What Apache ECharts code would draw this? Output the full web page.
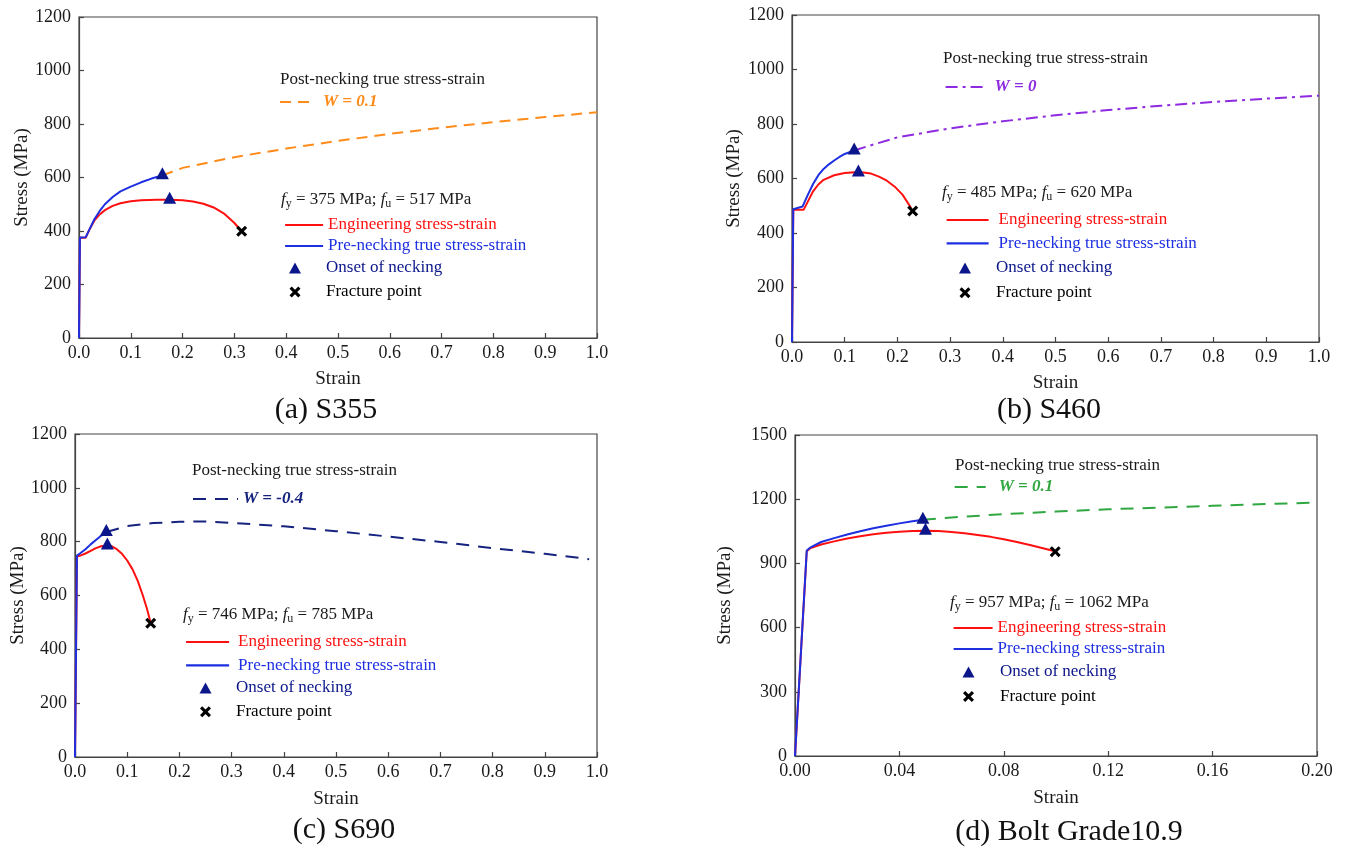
<!DOCTYPE html>
<html>
<head>
<meta charset="utf-8">
<script src="https://cdn.jsdelivr.net/npm/echarts@6/dist/echarts.min.js"></script>
<style>html,body{margin:0;padding:0;background:#fff}#c{width:1347px;height:849px}</style>
</head>
<body>
<div id="c"></div>
<script>
// ---------------- DATA (strain, stress MPa) ----------------
// (a) S355
const engA = [[0,0],[0.0018,375],[0.013,375],[0.02,405],[0.03,440],[0.04,462],[0.05,478],[0.065,494],[0.08,504],[0.1,511],[0.12,515],[0.15,517],[0.175,517],[0.2,515],[0.22,510],[0.24,502],[0.26,488],[0.28,465],[0.3,430],[0.314,399]];
const trueA = [[0,0],[0.0018,376],[0.013,377],[0.02,405],[0.03,445],[0.04,475],[0.05,500],[0.065,527],[0.08,548],[0.1,566],[0.12,582],[0.14,596],[0.161,608]];
const postA = [[0.161,608],[0.2,636],[0.3,676],[0.4,708],[0.5,737],[0.6,763],[0.7,786],[0.8,807],[0.9,826],[1.0,844]];
const neckA = [[0.161,608],[0.175,517]];
const fracA = [[0.314,399]];
// (b) S460
const engB = [[0,0],[0.0024,485],[0.022,485],[0.03,515],[0.04,553],[0.05,578],[0.06,595],[0.08,612],[0.1,620],[0.12,623],[0.135,622],[0.15,618],[0.165,607],[0.18,592],[0.195,570],[0.21,540],[0.226,492]];
const trueB = [[0,0],[0.0024,487],[0.02,497],[0.03,540],[0.04,580],[0.05,612],[0.06,635],[0.07,652],[0.08,666],[0.09,679],[0.1,690],[0.118,703]];
const postB = [[0.118,703],[0.15,722],[0.2,751],[0.3,784],[0.4,810],[0.5,832],[0.6,851],[0.7,867],[0.8,881],[0.9,893],[1.0,904]];
const neckB = [[0.118,703],[0.126,622]];
const fracB = [[0.229,481]];
// (c) S690
const engC = [[0,0],[0.0037,746],[0.01,748],[0.02,756],[0.03,766],[0.04,776],[0.05,783],[0.062,786],[0.07,783],[0.08,772],[0.09,755],[0.1,730],[0.11,698],[0.12,655],[0.13,600],[0.138,550],[0.144,505]];
const trueC = [[0,0],[0.0037,748],[0.01,757],[0.02,772],[0.03,790],[0.04,806],[0.05,822],[0.06,836]];
const postC = [[0.06,836],[0.1,858],[0.15,869],[0.2,874],[0.25,875],[0.3,870],[0.4,857],[0.5,839],[0.6,819],[0.7,799],[0.8,776],[0.9,755],[0.985,735]];
const neckC = [[0.06,836],[0.062,786]];
const fracC = [[0.145,497]];
// (d) Bolt Grade 10.9
const engD = [[0,0],[0.0045,957],[0.006,972],[0.01,988],[0.015,1003],[0.02,1016],[0.025,1027],[0.03,1036],[0.035,1043],[0.04,1048],[0.045,1051],[0.05,1052],[0.055,1051],[0.06,1047],[0.065,1041],[0.07,1033],[0.075,1024],[0.08,1013],[0.085,1000],[0.09,986],[0.095,971],[0.1,956]];
const trueD = [[0,0],[0.0045,960],[0.006,975],[0.01,1000],[0.015,1018],[0.02,1035],[0.025,1050],[0.03,1064],[0.035,1076],[0.04,1087],[0.045,1097],[0.049,1104]];
const postD = [[0.049,1104],[0.06,1115],[0.08,1130],[0.1,1142],[0.12,1153],[0.14,1161],[0.16,1169],[0.18,1177],[0.2,1184]];
const neckD = [[0.049,1104],[0.05,1052]];
const fracD = [[0.0997,955]];

const panelKeys = ['a','b','c','d'];
const captions = ['(a) S355','(b) S460','(c) S690','(d) Bolt Grade10.9'];
const wLabels = ['W = 0.1','W = 0','W = -0.4','W = 0.1'];
const fyText = ['375','485','746','957'];
const fuText = ['517','620','785','1062'];
const preLabels = ['Pre-necking true stress-strain','Pre-necking true stress-strain','Pre-necking true stress-strain','Pre-necking stress-strain'];
const xMax = [1.0,1.0,1.0,0.2];
const xInterval = [0.1,0.1,0.1,0.04];
const xDecimals = [1,1,1,2];
const yMax = [1200,1200,1200,1500];
const yInterval = [200,200,200,300];

const engData = [engA,engB,engC,engD];
const trueData = [trueA,trueB,trueC,trueD];
const postData = [postA,postB,postC,postD];
const neckData = [neckA,neckB,neckC,neckD];
const fracData = [fracA,fracB,fracC,fracD];

// ---------------- STYLE / LAYOUT ----------------
const FONT = 'Liberation Serif';
const RED = '#ff1010', BLUE = '#1d2fe0', NAVY = '#0a168a', BLACK = '#000000';
const postColors = ['#ff8c1a','#8e2be0','#15237f','#31a742'];
const postDash = [[11,7],[12,5,3,5],[13,9],[13,9]];
const AX = '#444';

const grids = [
  {left:79, top:17, width:518, height:321},
  {left:792, top:15, width:527, height:327},
  {left:75, top:434, width:522, height:323},
  {left:795, top:435, width:522, height:321}
];
const yNameGap = [47,48,47,60];
const xNameGap = [32,32,33,33];
const captionPos = [[326,393],[1049,393],[344,813],[1069,815]];
const headerPos = [[280,70],[943,49],[192,461],[955,456]];
const fyPos = [[281,190],[942,183],[183,605],[950,593]];
// W legend: left, top, itemWidth, text pad
const wLeg = [[279,92,32,6],[944.6,77,39,5],[192,489,45,0],[953.7,477,31,8]];
// line legend: left, top, itemWidth, gap, pad
const lineLeg = [[284,215,38,1,0],[945.5,210,42,3.3,5],[185,632,43,3.3,4],[952.5,618,39,1,0]];
// marker legend: left, top, gap, pad
const mkLeg = [[289,258,4,20],[959,258,4.8,20],[199.5,678,3.7,19.5],[962.5,662,4.5,20.5]];

const CROSS = 'path://M0,2L2,0L5,3L8,0L10,2L7,5L10,8L8,10L5,7L2,10L0,8L3,5Z';

const xAxes = [], yAxes = [], series = [], legends = [], titles = [];
const fmt = n => n.split('|')[1];

panelKeys.forEach((k,i) => {
  xAxes.push({
    type:'value', gridIndex:i, min:0, max:xMax[i], interval:xInterval[i],
    name:'Strain', nameLocation:'middle', nameGap:xNameGap[i],
    nameTextStyle:{fontFamily:FONT, fontSize:19, color:'#1a1a1a'},
    axisLine:{show:true, onZero:false, lineStyle:{color:AX, width:1.2}},
    axisTick:{show:true, inside:true, length:5, lineStyle:{color:AX, width:1.2}},
    axisLabel:{fontFamily:FONT, fontSize:18, color:'#1a1a1a', margin:6,
      formatter: v => v.toFixed(xDecimals[i])},
    splitLine:{show:false}
  });
  yAxes.push({
    type:'value', gridIndex:i, min:0, max:yMax[i], interval:yInterval[i],
    name:'Stress (MPa)', nameLocation:'middle', nameGap:yNameGap[i],
    nameTextStyle:{fontFamily:FONT, fontSize:19, color:'#1a1a1a'},
    axisLine:{show:true, onZero:false, lineStyle:{color:AX, width:1.2}},
    axisTick:{show:true, inside:true, length:5, lineStyle:{color:AX, width:1.2}},
    axisLabel:{fontFamily:FONT, fontSize:18, color:'#1a1a1a', margin:8,
      formatter: v => String(Math.round(v))},
    splitLine:{show:false}
  });

  const engName = k+'|Engineering stress-strain';
  const preName = k+'|'+preLabels[i];
  const wName = k+'|'+wLabels[i];
  const neckName = k+'|Onset of necking';
  const fracName = k+'|Fracture point';

  series.push({type:'line', name:wName, xAxisIndex:i, yAxisIndex:i, data:postData[i],
    symbol:'none', z:3, lineStyle:{color:postColors[i], width:2, type:postDash[i]}, itemStyle:{color:postColors[i]}});
  series.push({type:'line', name:engName, xAxisIndex:i, yAxisIndex:i, data:engData[i],
    symbol:'none', z:4, lineStyle:{color:RED, width:2}, itemStyle:{color:RED}});
  series.push({type:'line', name:preName, xAxisIndex:i, yAxisIndex:i, data:trueData[i],
    symbol:'none', z:5, lineStyle:{color:BLUE, width:2}, itemStyle:{color:BLUE}});
  series.push({type:'scatter', name:neckName, xAxisIndex:i, yAxisIndex:i, data:neckData[i],
    symbol:'triangle', symbolSize:[13,12], symbolOffset:[0,-2], z:6, itemStyle:{color:NAVY, opacity:1}});
  series.push({type:'scatter', name:fracName, xAxisIndex:i, yAxisIndex:i, data:fracData[i],
    symbol:CROSS, symbolSize:11, z:6, itemStyle:{color:BLACK, opacity:1}});

  const base = {fontFamily:FONT, fontSize:17, lineHeight:20};
  legends.push({
    left:wLeg[i][0], top:wLeg[i][1], padding:0, itemWidth:wLeg[i][2], itemHeight:14,
    selectedMode:false, formatter:fmt, itemStyle:{opacity:0}, lineStyle:{width:2},
    textStyle:Object.assign({}, base, {padding:[0,0,0,wLeg[i][3]]}),
    data:[{name:wName, textStyle:{color:postColors[i], fontWeight:'bold', fontStyle:'italic'}}]
  });
  legends.push({
    left:lineLeg[i][0], top:lineLeg[i][1], padding:0, orient:'vertical', itemWidth:lineLeg[i][2], itemHeight:14,
    itemGap:lineLeg[i][3], selectedMode:false, formatter:fmt, itemStyle:{opacity:0}, lineStyle:{width:2.2},
    textStyle:Object.assign({}, base, {padding:[0,0,0,lineLeg[i][4]]}),
    data:[{name:engName, textStyle:{color:RED}},{name:preName, textStyle:{color:BLUE}}]
  });
  legends.push({
    left:mkLeg[i][0], top:mkLeg[i][1], padding:0, orient:'vertical', itemWidth:12, itemHeight:11,
    itemGap:mkLeg[i][2], selectedMode:false, formatter:fmt, itemStyle:{opacity:1},
    textStyle:Object.assign({}, base, {padding:[0,0,0,mkLeg[i][3]]}),
    data:[{name:neckName, icon:'triangle', textStyle:{color:NAVY}},{name:fracName, icon:CROSS, textStyle:{color:BLACK}}]
  });

  titles.push({text:captions[i], left:captionPos[i][0], top:captionPos[i][1], textAlign:'center', padding:0,
    textStyle:{fontFamily:FONT, fontSize:30, fontWeight:'normal', color:'#111', lineHeight:34}});
  titles.push({text:'Post-necking true stress-strain', left:headerPos[i][0], top:headerPos[i][1], padding:0,
    textStyle:{fontFamily:FONT, fontSize:17, fontWeight:'normal', color:'#1a1a1a', lineHeight:20}});
  titles.push({text:'{i|f}{s|y} = '+fyText[i]+' MPa; {i|f}{s|u} = '+fuText[i]+' MPa', left:fyPos[i][0], top:fyPos[i][1], padding:0,
    textStyle:{fontFamily:FONT, fontSize:17, fontWeight:'normal', color:'#1a1a1a', lineHeight:20,
      rich:{i:{fontFamily:FONT, fontSize:17, fontStyle:'italic', color:'#1a1a1a', lineHeight:20},
            s:{fontFamily:FONT, fontSize:12, color:'#1a1a1a', lineHeight:12, padding:[8,0,0,0]}}}});
});

const chart = echarts.init(document.getElementById('c'), null, {renderer:'canvas'});
chart.setOption({
  animation:false,
  backgroundColor:'#ffffff',
  title:titles,
  grid:grids.map(g => Object.assign({show:true, borderColor:AX, borderWidth:1.2, backgroundColor:'transparent', containLabel:false}, g)),
  xAxis:xAxes,
  yAxis:yAxes,
  legend:legends,
  series:series
});
</script>
</body>
</html>
